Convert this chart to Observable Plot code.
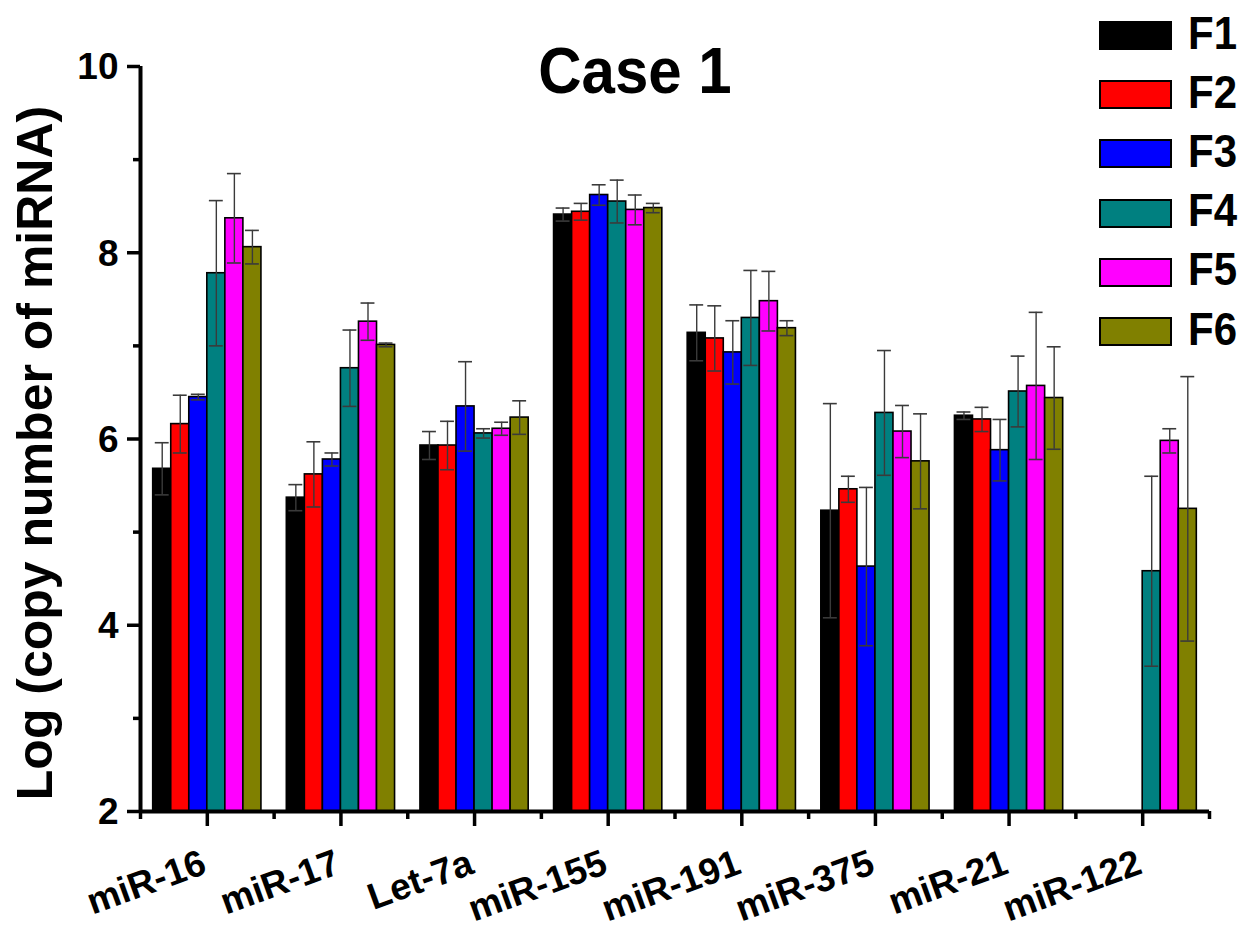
<!DOCTYPE html>
<html><head><meta charset="utf-8">
<script src="https://cdn.jsdelivr.net/npm/d3@7"></script>
<script src="https://cdn.jsdelivr.net/npm/@observablehq/plot@0.6"></script>
<style>
body{margin:0;background:#fff;font-family:"Liberation Sans",Arial,sans-serif;}
#wrap{position:relative;width:1245px;height:927px;overflow:hidden;}
.ov{position:absolute;font-weight:bold;color:#000;white-space:nowrap;}
.sw{position:absolute;box-sizing:border-box;border:2px solid #000;}
</style></head><body><div id="wrap"></div>
<script>
const groups = ["miR-16","miR-17","Let-7a","miR-155","miR-191","miR-375","miR-21","miR-122"];
const series = ["F1","F2","F3","F4","F5","F6"];
const colors = ["#000000","#ff0000","#0000ff","#008080","#ff00ff","#808000"];
const F1 = [5.68, 5.37, 5.93, 8.41, 7.14, 5.23, 6.25, null];
const F2 = [6.16, 5.62, 5.93, 8.44, 7.08, 5.46, 6.21, null];
const F3 = [6.45, 5.78, 6.35, 8.62, 6.93, 4.63, 5.88, null];
const F4 = [7.78, 6.76, 6.06, 8.55, 7.30, 6.28, 6.51, 4.58];
const F5 = [8.37, 7.26, 6.11, 8.46, 7.48, 6.08, 6.57, 5.98];
const F6 = [8.06, 7.01, 6.23, 8.48, 7.19, 5.76, 6.44, 5.25];
const E1 = [0.28, 0.14, 0.15, 0.07, 0.30, 1.15, 0.04, null];
const E2 = [0.31, 0.35, 0.26, 0.09, 0.35, 0.14, 0.13, null];
const E3 = [0.03, 0.07, 0.48, 0.11, 0.34, 0.85, 0.33, null];
const E4 = [0.78, 0.41, 0.05, 0.23, 0.51, 0.67, 0.38, 1.02];
const E5 = [0.48, 0.20, 0.07, 0.16, 0.32, 0.28, 0.79, 0.13];
const E6 = [0.18, 0.02, 0.18, 0.05, 0.08, 0.51, 0.55, 1.42];
const yMajor = [2, 4, 6, 8, 10];
const yMinor = [3, 5, 7, 9];
const title = "Case 1";
const yLabel = "Log (copy number of miRNA)";

const values = [F1, F2, F3, F4, F5, F6];
const errors = [E1, E2, E3, E4, E5, E6];
const rows = groups.flatMap((g, gi) => series.map((s, si) => ({g, gi, s, si, v: values[si][gi], e: errors[si][gi]})))
  .filter(d => d.v != null);

const pad = 0.095, bw = (1 - 2 * pad) / series.length, cap = 0.052;
const bx1 = d => d.gi + pad + d.si * bw;
const bx2 = d => d.gi + pad + (d.si + 1) * bw;
const bxc = d => d.gi + pad + (d.si + 0.5) * bw;

const font = "'Liberation Sans', Arial, sans-serif";
const chart = Plot.plot({
  width: 1245, height: 927,
  marginLeft: 140, marginRight: 36, marginTop: 66, marginBottom: 116,
  style: {fontFamily: font, background: "white", overflow: "visible"},
  x: {type: "linear", domain: [0, groups.length], axis: null},
  y: {domain: [2, 10], axis: null},
  marks: [
    Plot.rect(rows, {x1: bx1, x2: bx2, y1: 2, y2: "v", fill: d => colors[d.si], stroke: "#000", strokeWidth: 1.6}),
    Plot.ruleX(rows.filter(d => d.e != null), {x: bxc, y1: d => d.v - d.e, y2: d => d.v + d.e, stroke: "#3a3a3a", strokeWidth: 1.4}),
    Plot.ruleY(rows.filter(d => d.e != null), {y: d => d.v + d.e, x1: d => bxc(d) - cap, x2: d => bxc(d) + cap, stroke: "#3a3a3a", strokeWidth: 1.6}),
    Plot.ruleY(rows.filter(d => d.e != null), {y: d => d.v - d.e, x1: d => bxc(d) - cap, x2: d => bxc(d) + cap, stroke: "#3a3a3a", strokeWidth: 1.6}),
    Plot.axisY({ticks: yMajor, tickSize: 13, tickFormat: () => "", strokeWidth: 3.5, label: null}),
    Plot.axisY({ticks: yMinor, tickSize: 7, tickFormat: () => "", strokeWidth: 3.5, label: null}),
    Plot.text(yMajor, {x: 0, y: d => d, text: d => String(d), textAnchor: "end", lineAnchor: "middle", dx: -22, dy: 1, fontSize: 37, fontWeight: "bold"}),
    Plot.axisX({ticks: d3.range(groups.length).map(i => i + 0.5), tickSize: 15, tickFormat: () => "", strokeWidth: 3.5, label: null}),
    Plot.axisX({ticks: d3.range(groups.length + 1), tickSize: 8, tickFormat: () => "", strokeWidth: 3.5, label: null}),
    Plot.ruleX([0], {strokeWidth: 4}),
    Plot.ruleY([2], {strokeWidth: 4}),
    Plot.text(groups, {x: (d, i) => i + 0.5, y: 2, text: d => d, rotate: -20, textAnchor: "end", lineAnchor: "middle", dx: -3, dy: 50, fontSize: 37, fontWeight: "bold"}),
    Plot.text([yLabel], {frameAnchor: "left", text: d => d, rotate: -90, textAnchor: "middle", lineAnchor: "middle", dx: -105, dy: 14, fontSize: 50, fontWeight: "bold"})
  ]
});
const wrap = document.getElementById("wrap");
wrap.appendChild(chart);

const t = document.createElement("div");
t.className = "ov";
t.textContent = title;
Object.assign(t.style, {left: "485px", width: "300px", textAlign: "center", top: "43px", fontSize: "60px", lineHeight: "60px", transform: "scaleY(1.08)", transformOrigin: "50% 85%"});
wrap.appendChild(t);

series.forEach((s, i) => {
  const top = 21 + i * 59.2;
  const sw = document.createElement("div");
  sw.className = "sw";
  Object.assign(sw.style, {left: "1099px", top: top + "px", width: "73px", height: "29px", background: colors[i]});
  wrap.appendChild(sw);
  const lb = document.createElement("div");
  lb.className = "ov";
  lb.textContent = s;
  Object.assign(lb.style, {left: "1188px", top: (top - 9.5) + "px", fontSize: "42px", lineHeight: "42px", transform: "scaleY(1.12)", transformOrigin: "0 50%"});
  wrap.appendChild(lb);
});
</script></body></html>
